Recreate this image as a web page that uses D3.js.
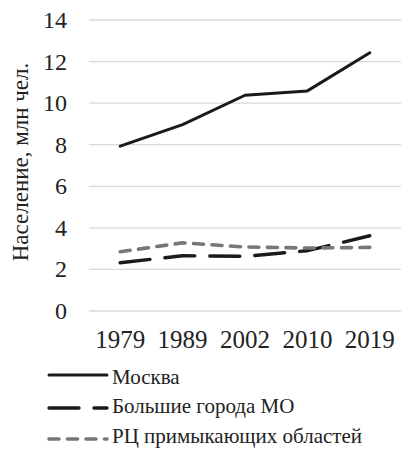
<!DOCTYPE html>
<html>
<head>
<meta charset="utf-8">
<script src="https://cdn.jsdelivr.net/npm/d3@7"></script>
</head>
<body style="margin:0">
<script>
// Census years and population (million people)
const years = ["1979", "1989", "2002", "2010", "2019"];
const moscow = [7.93, 8.97, 10.38, 10.59, 12.42];
const bigCitiesMO = [2.32, 2.66, 2.63, 2.9, 3.62];
const regionalCenters = [2.85, 3.28, 3.08, 3.03, 3.06];
const yTicks = [0, 2, 4, 6, 8, 10, 12, 14];

const seriesNames = ["Москва", "Большие города МО", "РЦ примыкающих областей"];
const seriesValues = [moscow, bigCitiesMO, regionalCenters];
const seriesStyles = [
  { color: "#1a1a1a", width: 3, dash: null },
  { color: "#1a1a1a", width: 3.4, dash: "30,15" },
  { color: "#777777", width: 3.6, dash: "10,8.5" }
];

const W = 401, H = 452;
const svg = d3.select("body").append("svg")
  .attr("width", W).attr("height", H)
  .style("display", "block");

const x = d3.scaleBand().domain(years).range([89, 401]);
const y = d3.scaleLinear().domain([0, 14]).range([311, 20]);

// serif text helper
const font = size => `${size}px "Liberation Serif", "Times New Roman", Tinos, serif`;

// gridlines
svg.append("g").selectAll("line").data(yTicks).join("line")
  .attr("x1", 89).attr("x2", W)
  .attr("y1", d => y(d)).attr("y2", d => y(d))
  .attr("stroke", "#d9d9d9").attr("stroke-width", 1.3);

// y tick labels
svg.append("g").selectAll("text").data(yTicks).join("text")
  .attr("x", 67).attr("y", d => y(d) + 8)
  .attr("text-anchor", "end").attr("fill", "#222")
  .style("font", font(24))
  .text(d => d);

// x tick labels
svg.append("g").selectAll("text").data(years).join("text")
  .attr("x", d => x(d) + x.bandwidth() / 2).attr("y", 348)
  .attr("text-anchor", "middle").attr("fill", "#222")
  .style("font", font(25))
  .text(d => d);

// y axis title
svg.append("text")
  .attr("transform", "translate(28,162) rotate(-90)")
  .attr("text-anchor", "middle").attr("fill", "#222")
  .style("font", font(23))
  .text("Население, млн чел.");

// series lines
const line = d3.line()
  .x((d, i) => x(years[i]) + x.bandwidth() / 2)
  .y(d => y(d));

seriesValues.forEach((vals, k) => {
  const s = seriesStyles[k];
  svg.append("path").datum(vals)
    .attr("d", line)
    .attr("fill", "none")
    .attr("stroke", s.color)
    .attr("stroke-width", s.width)
    .attr("stroke-linecap", "round")
    .attr("stroke-linejoin", "round")
    .attr("stroke-dasharray", s.dash);
});

// legend
const legendLineY = [375, 408, 439];
const legendTextY = [384, 413, 443];
seriesNames.forEach((name, k) => {
  const s = seriesStyles[k];
  svg.append("line")
    .attr("x1", 49).attr("x2", 107)
    .attr("y1", legendLineY[k]).attr("y2", legendLineY[k])
    .attr("stroke", s.color).attr("stroke-width", s.width)
    .attr("stroke-linecap", "round")
    .attr("stroke-dasharray", s.dash);
  svg.append("text")
    .attr("x", 112).attr("y", legendTextY[k])
    .attr("fill", "#222")
    .style("font", font(21))
    .text(name);
});
</script>
</body>
</html>
